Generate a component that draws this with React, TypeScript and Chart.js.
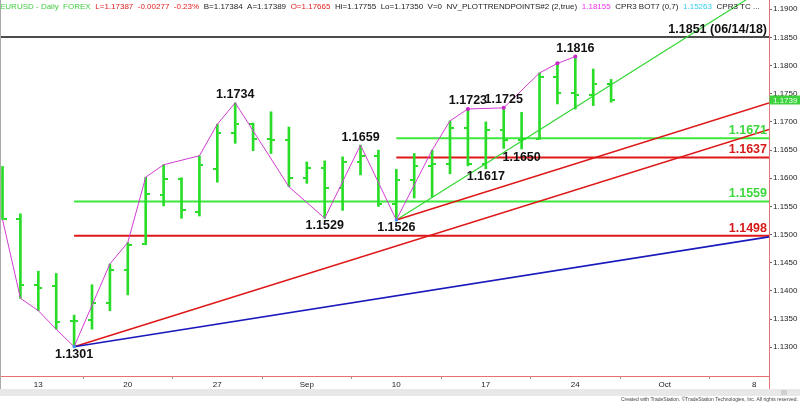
import React, { useEffect, useRef } from 'react';
import { Chart, registerables } from 'chart.js';

Chart.register(...registerables);

// ---- data ----
const barIdx = [-2, -1, 0, 1, 2, 3, 4, 5, 6, 7, 8, 9, 10, 11, 12, 13, 14, 15, 16, 17, 18, 19, 20, 21, 22, 23, 24, 25, 26, 27, 28, 29, 30, 31, 32];
const opens = [1.16, 1.1527, 1.141, 1.1408, 1.1347, 1.1348, 1.1378, 1.1438, 1.1484, 1.157, 1.1598, 1.1541, 1.1617, 1.168, 1.1696, 1.167, 1.1668, 1.16, 1.1618, 1.1583, 1.1629, 1.164, 1.1554, 1.1597, 1.1621, 1.1626, 1.169, 1.1625, 1.1686, 1.1668, 1.167, 1.1779, 1.1751, 1.1748, 1.17665];
const highs = [1.1621, 1.1537, 1.1435, 1.1431, 1.1357, 1.1411, 1.1448, 1.1486, 1.1602, 1.1624, 1.1601, 1.164, 1.1696, 1.1734, 1.1698, 1.1718, 1.1691, 1.1629, 1.1631, 1.1638, 1.1659, 1.165, 1.1616, 1.1644, 1.165, 1.1702, 1.1723, 1.17, 1.1725, 1.1717, 1.1787, 1.1804, 1.1816, 1.1794, 1.17755];
const lows = [1.1527, 1.1387, 1.1365, 1.1332, 1.1301, 1.1332, 1.1365, 1.1393, 1.1482, 1.1551, 1.1529, 1.1533, 1.1593, 1.1662, 1.1649, 1.1644, 1.1585, 1.1591, 1.1529, 1.1543, 1.1606, 1.155, 1.1526, 1.1565, 1.1567, 1.1608, 1.1622, 1.1617, 1.1653, 1.1652, 1.1669, 1.1732, 1.1723, 1.1729, 1.1735];
const closes = [1.1528, 1.1411, 1.1406, 1.1344, 1.1347, 1.1378, 1.1438, 1.1482, 1.1572, 1.1598, 1.1544, 1.1624, 1.168, 1.1696, 1.167, 1.1668, 1.16, 1.1618, 1.1583, 1.1629, 1.164, 1.1554, 1.1597, 1.1621, 1.1626, 1.169, 1.1625, 1.1686, 1.1668, 1.167, 1.1779, 1.1751, 1.1747, 1.1767, 1.17387];

const tickIdx = [0, 5, 10, 15, 20, 25, 30, 35, 40];
const tickLabels = ['13', '20', '27', 'Sep', '10', '17', '24', 'Oct', '8'];

const zzIdx = [-2, -1, 0, 1, 2, 4, 5, 6, 7, 9, 10, 11, 14, 16, 18, 20, 22, 23, 24, 26, 28, 29, 30];
const zzPrice = [1.1527, 1.1387, 1.1365, 1.1332, 1.1301, 1.1448, 1.1486, 1.1602, 1.1624, 1.164, 1.1696, 1.1734, 1.1585, 1.1529, 1.1659, 1.1526, 1.165, 1.1702, 1.1723, 1.1725, 1.1787, 1.1804, 1.1816];

const pinkDotIdx = [24, 26, 29, 30];
const pinkDotPrice = [1.1723, 1.1725, 1.1804, 1.1816];
const blueDotIdx = [2, 20];
const blueDotPrice = [1.1301, 1.1526];

const swingIdx = [2, 11, 16, 18, 20, 24, 25, 26, 27, 30];
const swingPrice = [1.1301, 1.1734, 1.1529, 1.1659, 1.1526, 1.1723, 1.1617, 1.1725, 1.165, 1.1816];
const swingSide = ['low', 'high', 'low', 'high', 'low', 'high', 'low', 'high', 'low', 'high'];

const X_MIN = -2.14;
const X_MAX = 40.82;
const Y_MAX = 1.19165;
const Y_MIN = 1.1249;

const levelPrice = [1.1851, 1.1671, 1.1637, 1.1559, 1.1498];
const levelStart = [X_MIN, 20, 20, 2, 2];
const levelLabel = ['1.1851 (06/14/18)', '1.1671', '1.1637', '1.1559', '1.1498'];
const levelColor = ['#111111', 'rgb(60,232,60)', 'rgb(222,24,24)', 'rgb(60,232,60)', 'rgb(222,24,24)'];
const levelTextColor = ['#111111', 'rgb(60,215,60)', 'rgb(215,25,25)', 'rgb(60,215,60)', 'rgb(215,25,25)'];
const levelWidth = [1.5, 2, 2, 2, 2];

const diagStartIdx = [2, 2, 20, 20];
const diagStartPrice = [1.1301, 1.1301, 1.1526, 1.1526];
const diagEndIdx = [X_MAX, X_MAX, X_MAX, X_MAX];
const diagEndPrice = [1.1496, 1.16867, 1.17337, 1.19425];
const diagColor = ['rgb(25,25,190)', 'rgb(222,24,24)', 'rgb(222,24,24)', 'rgb(50,215,50)'];
const diagWidth = [1.6, 1.6, 1.6, 1.2];

const lastPrice = 1.1739;

const headerParts = [
  { text: 'EURUSD - Daily  FOREX', color: '#44cc44' },
  { text: 'L=1.17387  -0.00277  -0.23%', color: '#e02020' },
  { text: 'B=1.17384  A=1.17389', color: '#222222' },
  { text: 'O=1.17665', color: '#e02020' },
  { text: 'Hi=1.17755  Lo=1.17350  V=0  NV_PLOTTRENDPOINTS#2 (2,true)', color: '#222222' },
  { text: '1.18155', color: '#ee33ee' },
  { text: 'CPR3 BOT7 (0,7)', color: '#222222' },
  { text: '1.15263', color: '#33ccee' },
  { text: 'CPR3 TC ...', color: '#222222' },
];

const FONT = 'Arial, "Liberation Sans", sans-serif';

function makeTick(side: 'left' | 'right') {
  const c = document.createElement('canvas');
  c.width = 8;
  c.height = 2;
  const g = c.getContext('2d')!;
  g.fillStyle = 'rgb(40,220,40)';
  if (side === 'left') g.fillRect(0, 0, 3, 2);
  else g.fillRect(5, 0, 3, 2);
  return c;
}

function zeroPad(s: any) {
  s.paddingTop = 0;
  s.paddingBottom = 0;
  s.paddingLeft = 0;
  s.paddingRight = 0;
}

const overlayPlugin = {
  id: 'overlay',
  afterDatasetsDraw(chart: any) {
    const { ctx, scales } = chart;
    const x = scales.x;
    const y = scales.y;
    ctx.save();
    ctx.font = 'bold 12.5px ' + FONT;
    ctx.textAlign = 'center';
    ctx.textBaseline = 'middle';
    ctx.fillStyle = '#111';
    swingIdx.forEach((i, k) => {
      const px = x.getPixelForValue(i);
      const py = y.getPixelForValue(swingPrice[k]) + (swingSide[k] === 'high' ? -8 : 7.5);
      ctx.fillText(swingPrice[k].toFixed(4), px, py);
    });
    ctx.textAlign = 'right';
    levelPrice.forEach((p, k) => {
      ctx.fillStyle = levelTextColor[k];
      ctx.fillText(levelLabel[k], chart.chartArea.right - 2, y.getPixelForValue(p) - 7.5);
    });
    ctx.restore();
  },
  afterDraw(chart: any) {
    const { ctx, chartArea, scales } = chart;
    const y = scales.y;
    ctx.save();
    // header
    ctx.font = '8px ' + FONT;
    ctx.textBaseline = 'alphabetic';
    ctx.textAlign = 'left';
    let cx = 0;
    headerParts.forEach((p) => {
      ctx.fillStyle = p.color;
      ctx.fillText(p.text, cx, 9);
      cx += ctx.measureText(p.text).width + 4.6;
    });
    // last price tag
    const ty = Math.round(y.getPixelForValue(lastPrice));
    ctx.fillStyle = 'rgb(60,210,60)';
    ctx.fillRect(chartArea.right + 0.5, ty - 4.5, 800 - chartArea.right, 9);
    ctx.fillStyle = '#eaffea';
    ctx.font = '8px ' + FONT;
    ctx.textBaseline = 'middle';
    ctx.fillText(lastPrice.toFixed(4), chartArea.right + 4, ty + 0.5);
    // left gray border
    ctx.strokeStyle = '#aaaaaa';
    ctx.lineWidth = 1;
    ctx.beginPath();
    ctx.moveTo(0.5, 0);
    ctx.lineTo(0.5, 396);
    ctx.stroke();
    // extend right border
    ctx.strokeStyle = '#e57373';
    ctx.beginPath();
    ctx.moveTo(chartArea.right + 0.5, chartArea.bottom);
    ctx.lineTo(chartArea.right + 0.5, 389);
    ctx.stroke();
    // scroll band
    ctx.fillStyle = '#e8e8e8';
    ctx.fillRect(0, 389, 800, 7);
    ctx.fillStyle = '#cfcfcf';
    ctx.fillRect(781, 390, 6, 5);
    // copyright
    ctx.fillStyle = '#444';
    ctx.font = '5px ' + FONT;
    ctx.textAlign = 'right';
    ctx.textBaseline = 'alphabetic';
    ctx.fillText('Created with TradeStation. \u00A9TradeStation Technologies, Inc. All rights reserved.', 798, 401);
    ctx.restore();
  },
};

export default function App() {
  const ref = useRef<HTMLCanvasElement>(null);

  useEffect(() => {
    document.body.style.margin = '0';
    const canvas = ref.current!;
    const leftTick = makeTick('left');
    const rightTick = makeTick('right');

    const lineDatasets: any[] = [];
    levelPrice.forEach((p, k) => {
      lineDatasets.push({
        type: 'line',
        data: [{ x: levelStart[k], y: p }, { x: X_MAX, y: p }],
        borderColor: levelColor[k],
        borderWidth: levelWidth[k],
        pointRadius: 0,
        fill: false,
        order: 10,
      });
    });
    diagStartIdx.forEach((i, k) => {
      lineDatasets.push({
        type: 'line',
        data: [{ x: i, y: diagStartPrice[k] }, { x: diagEndIdx[k], y: diagEndPrice[k] }],
        borderColor: diagColor[k],
        borderWidth: diagWidth[k],
        pointRadius: 0,
        fill: false,
        order: 9,
      });
    });

    const chart = new Chart(canvas, {
      type: 'line',
      data: {
        datasets: [
          ...lineDatasets,
          {
            type: 'bar',
            data: barIdx.map((i, k) => ({ x: i, y: [lows[k], highs[k]] })),
            backgroundColor: 'rgb(40,220,40)',
            borderWidth: 0,
            barThickness: 2,
            order: 5,
          },
          {
            type: 'line',
            data: barIdx.map((i, k) => ({ x: i, y: opens[k] })),
            showLine: false,
            pointStyle: leftTick,
            pointRadius: 1,
            order: 4,
          },
          {
            type: 'line',
            data: barIdx.map((i, k) => ({ x: i, y: closes[k] })),
            showLine: false,
            pointStyle: rightTick,
            pointRadius: 1,
            order: 4,
          },
          {
            type: 'line',
            data: zzIdx.map((i, k) => ({ x: i, y: zzPrice[k] })),
            borderColor: 'rgb(210,60,210)',
            borderWidth: 1,
            pointRadius: 0,
            tension: 0,
            fill: false,
            order: 2,
          },
          {
            type: 'line',
            data: pinkDotIdx.map((i, k) => ({ x: i, y: pinkDotPrice[k] })),
            showLine: false,
            pointRadius: 2,
            pointBackgroundColor: 'rgb(200,40,200)',
            pointBorderWidth: 0,
            order: 1,
          },
          {
            type: 'line',
            data: blueDotIdx.map((i, k) => ({ x: i, y: blueDotPrice[k] })),
            showLine: false,
            pointRadius: 1.6,
            pointBackgroundColor: 'rgb(60,140,255)',
            pointBorderWidth: 0,
            order: 1,
          },
        ] as any,
      },
      options: {
        animation: false,
        responsive: false,
        maintainAspectRatio: false,
        devicePixelRatio: 1,
        layout: { padding: 0, autoPadding: false },
        plugins: { legend: { display: false }, tooltip: { enabled: false } },
        events: [],
        scales: {
          x: {
            type: 'linear',
            min: X_MIN,
            max: X_MAX,
            offset: false,
            position: 'bottom',
            afterFit: (s: any) => {
              s.height = 26;
              zeroPad(s);
            },
            grid: { display: true, drawOnChartArea: false, drawTicks: true, tickLength: 3, color: '#9a9a9a' },
            border: { display: true, color: '#e57373', width: 1 },
            ticks: {
              stepSize: 5,
              includeBounds: false,
              autoSkip: false,
              maxRotation: 0,
              padding: 1,
              color: '#222',
              font: { size: 8, family: FONT },
              callback: (v: any) => {
                const i = tickIdx.indexOf(Number(v));
                return i >= 0 ? tickLabels[i] : '';
              },
            },
          },
          y: {
            type: 'linear',
            position: 'right',
            min: Y_MIN,
            max: Y_MAX,
            afterFit: (s: any) => {
              s.width = 31;
              zeroPad(s);
            },
            afterBuildTicks: (s: any) => {
              s.ticks = s.ticks.filter((t: any) => t.value > 1.1299 && t.value < 1.1905);
            },
            grid: { display: true, drawOnChartArea: false, drawTicks: true, tickLength: 3, color: '#666' },
            border: { display: true, color: '#e57373', width: 1 },
            ticks: {
              stepSize: 0.005,
              includeBounds: false,
              autoSkip: false,
              padding: 1,
              color: '#222',
              font: { size: 8, family: FONT },
              callback: (v: any) => Number(v).toFixed(4),
            },
          },
        },
      } as any,
      plugins: [overlayPlugin],
    });

    return () => {
      chart.destroy();
    };
  }, []);

  return (
    <div style={{ position: 'absolute', left: 0, top: 0, width: 800, height: 402, background: '#fff' }}>
      <canvas ref={ref} width={800} height={402} style={{ display: 'block', width: 800, height: 402 }} />
    </div>
  );
}
